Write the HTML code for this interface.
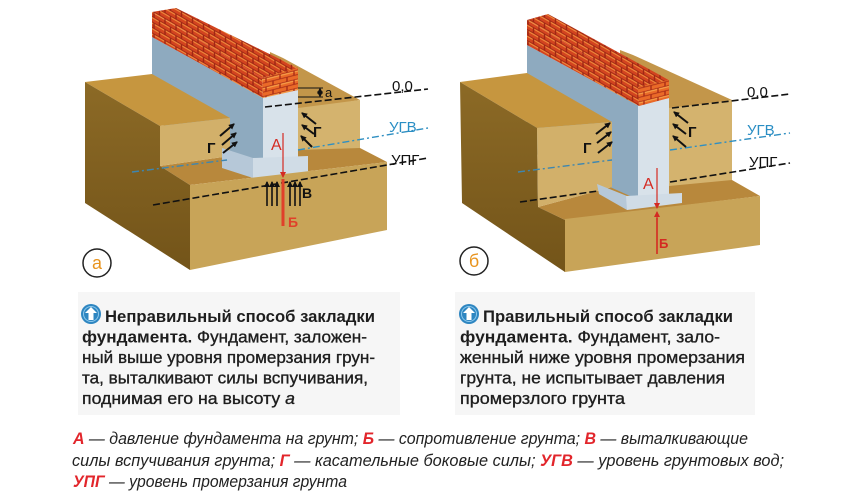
<!DOCTYPE html>
<html><head><meta charset="utf-8"><style>
html,body{margin:0;padding:0;background:#fff;}
svg{display:block;}
</style></head><body>
<svg width="860" height="500" viewBox="0 0 860 500" xmlns="http://www.w3.org/2000/svg">
<defs>
<pattern id="brS" patternUnits="userSpaceOnUse" width="11" height="11" patternTransform="skewY(30)">
<rect width="11" height="11" fill="#9e2614"/>
<rect x="0.7" y="0.7" width="9.6" height="4.4" fill="#d2441f"/>
<rect x="0.7" y="0.7" width="9.6" height="1.3" fill="#f08a3c"/>
<rect x="-4.8" y="6.2" width="9.6" height="4.4" fill="#d2441f"/>
<rect x="6.2" y="6.2" width="9.6" height="4.4" fill="#d2441f"/>
<rect x="-4.8" y="6.2" width="9.6" height="1.3" fill="#f08a3c"/>
<rect x="6.2" y="6.2" width="9.6" height="1.3" fill="#f08a3c"/>
</pattern>
<pattern id="brE" patternUnits="userSpaceOnUse" width="14" height="9" patternTransform="skewY(-14)">
<rect width="14" height="9" fill="#a82c16"/>
<rect x="0.7" y="0.7" width="12.6" height="3.6" fill="#ea6a28"/>
<rect x="0.7" y="0.7" width="12.6" height="1.2" fill="#f7a24a"/>
<rect x="-6.3" y="5.2" width="12.6" height="3.6" fill="#ea6a28"/>
<rect x="7.7" y="5.2" width="12.6" height="3.6" fill="#ea6a28"/>
</pattern>
<linearGradient id="dk" x1="0" y1="0" x2="0" y2="1">
<stop offset="0" stop-color="#8c6a26"/><stop offset="1" stop-color="#735419"/>
</linearGradient>
<marker id="ahK" markerWidth="6" markerHeight="6" refX="5" refY="3" orient="auto" markerUnits="userSpaceOnUse">
<path d="M0,0 L6,3 L0,6 z" fill="#111"/></marker>
<marker id="ahR" markerWidth="6" markerHeight="6" refX="5" refY="3" orient="auto" markerUnits="userSpaceOnUse">
<path d="M0,0 L6,3 L0,6 z" fill="#d42a22"/></marker>
</defs>

<!-- caption backgrounds -->
<rect x="78" y="292" width="322" height="123" fill="#f6f6f6"/>
<rect x="455" y="292" width="300" height="123" fill="#f6f6f6"/>

<!-- ================= LEFT DIAGRAM ================= -->
<g>
<polygon points="270,52 283,58 360,100 298,110 270,95" fill="#c3964a"/>
<polygon points="298,108 360,100 360,150 298,156" fill="#d4b36e"/>
<polygon points="160,166 230,156 298,150 360,148 387,162 190,185" fill="#b8883c"/>
<polygon points="152,37 263,98 263,172 152,120" fill="#8eaabf"/>
<polygon points="263,97 298,90 298,160 263,162" fill="#d8e2ea"/>
<!-- brick -->
<polygon points="152,12 262,78 263,98 152,37" fill="url(#brS)"/>
<polygon points="152,12 176,8 298,68 262,78" fill="url(#brS)"/>
<polygon points="262,78 298,68 298,90 263,98" fill="url(#brE)"/>
<!-- soil -->
<polygon points="85,82 152,74 230,118 160,126" fill="#c6963f"/>
<polygon points="85,82 160,126 160,166 190,185 190,270 85,203" fill="url(#dk)"/>
<polygon points="160,126 230,118 230,156 160,166" fill="#d2b06a"/>
<!-- footing -->
<polygon points="222,148 253,158 253,178 222,168" fill="#b6c8d8"/>
<polygon points="253,158 308,156 308,172 253,178" fill="#d0dce6"/>
<polygon points="190,185 387,162 387,230 190,270" fill="#c8a458"/>

<!-- lines -->
<line x1="265" y1="107" x2="428" y2="89" stroke="#111" stroke-width="1.6" stroke-dasharray="7,3"/>
<line x1="298" y1="150" x2="428" y2="128" stroke="#2f8fc2" stroke-width="1.4" stroke-dasharray="7,3,2,3"/>
<line x1="132" y1="172" x2="227" y2="160" stroke="#3d86b0" stroke-width="1.4" stroke-dasharray="7,3,2,3"/>
<line x1="153" y1="205" x2="428" y2="158" stroke="#111" stroke-width="1.6" stroke-dasharray="7,3"/>
<!-- a dimension -->
<line x1="298" y1="88" x2="323" y2="88" stroke="#111" stroke-width="1"/>
<line x1="298" y1="97" x2="323" y2="97" stroke="#111" stroke-width="1"/>
<line x1="320" y1="93" x2="320" y2="88.5" stroke="#111" stroke-width="1" marker-end="url(#ahK)"/>
<line x1="320" y1="93" x2="320" y2="96.5" stroke="#111" stroke-width="1" marker-end="url(#ahK)"/>
<text x="325" y="97" font-family="Liberation Sans, sans-serif" font-size="13" fill="#111">а</text>
<!-- Г arrows -->
<g stroke="#111" stroke-width="2">
<line x1="220" y1="136" x2="234" y2="124" marker-end="url(#ahK)"/>
<line x1="222" y1="145" x2="236" y2="133" marker-end="url(#ahK)"/>
<line x1="223" y1="153" x2="237" y2="142" marker-end="url(#ahK)"/>
<line x1="316" y1="124" x2="302" y2="113" marker-end="url(#ahK)"/>
<line x1="314" y1="134" x2="302" y2="125" marker-end="url(#ahK)"/>
<line x1="312" y1="147" x2="301" y2="136" marker-end="url(#ahK)"/>
</g>
<text x="207" y="153" font-family="Liberation Sans, sans-serif" font-size="15" font-weight="bold" fill="#111">Г</text>
<text x="313" y="137" font-family="Liberation Sans, sans-serif" font-size="15" font-weight="bold" fill="#111">Г</text>
<!-- A / Б -->
<text x="271" y="150" font-family="Liberation Sans, sans-serif" font-size="16" fill="#d42a22">А</text>
<line x1="283" y1="133" x2="283" y2="177" stroke="#d42a22" stroke-width="1.2" marker-end="url(#ahR)"/>
<line x1="283" y1="179" x2="283" y2="226" stroke="#e0402a" stroke-width="3"/>
<text x="288" y="227" font-family="Liberation Sans, sans-serif" font-size="14" font-weight="bold" fill="#e0402a">Б</text>
<!-- В arrows -->
<g stroke="#111" stroke-width="1.6">
<line x1="267" y1="206" x2="267" y2="182" marker-end="url(#ahK)"/>
<line x1="272" y1="206" x2="272" y2="182" marker-end="url(#ahK)"/>
<line x1="277" y1="206" x2="277" y2="182" marker-end="url(#ahK)"/>
<line x1="290" y1="206" x2="290" y2="182" marker-end="url(#ahK)"/>
<line x1="295" y1="206" x2="295" y2="182" marker-end="url(#ahK)"/>
<line x1="300" y1="206" x2="300" y2="182" marker-end="url(#ahK)"/>
</g>
<text x="302" y="198" font-family="Liberation Sans, sans-serif" font-size="14" font-weight="bold" fill="#111">В</text>
<!-- labels -->
<text x="392" y="91" font-family="Liberation Sans, sans-serif" font-size="15" fill="#111">0,0</text>
<text x="389" y="132" font-family="Liberation Sans, sans-serif" font-size="15" fill="#2a8ec4">УГВ</text>
<text x="391" y="165" font-family="Liberation Sans, sans-serif" font-size="15" fill="#111">УПГ</text>
<circle cx="97" cy="263" r="14" fill="#fff" stroke="#222" stroke-width="1.5"/>
<text x="97" y="269" text-anchor="middle" font-family="Liberation Sans, sans-serif" font-size="18" fill="#e8941e">а</text>
</g>

<!-- ================= RIGHT DIAGRAM ================= -->
<g>
<polygon points="620,50 633,55 732,100 670,110 620,100" fill="#c3964a"/>
<polygon points="669,108 732,100 732,182 669,188" fill="#d4b36e"/>
<polygon points="538,207 612,187 669,186 732,180 760,196 565,220" fill="#b8883c"/>
<polygon points="527,45 639,106 639,200 527,150" fill="#8eaabf"/>
<polygon points="638,105 669,98 669,195 638,198" fill="#d8e2ea"/>
<polygon points="527,20 638,87 639,106 527,45" fill="url(#brS)"/>
<polygon points="527,20 548,14 669,80 638,87" fill="url(#brS)"/>
<polygon points="638,87 669,80 669,98 639,106" fill="url(#brE)"/>
<polygon points="460,82 527,73 612,122 537,128" fill="#c6963f"/>
<polygon points="460,82 537,128 538,207 565,220 565,272 462,203" fill="url(#dk)"/>
<polygon points="537,128 612,122 612,187 538,207" fill="#d2b06a"/>
<polygon points="597,184 627,196 627,210 599,194" fill="#b6c8d8"/>
<polygon points="626,196 682,193 682,203 627,210" fill="#d0dce6"/>
<polygon points="565,219 760,196 760,245 565,272" fill="#c8a458"/>

<line x1="672" y1="108" x2="790" y2="94" stroke="#111" stroke-width="1.6" stroke-dasharray="7,3"/>
<line x1="670" y1="150" x2="790" y2="133" stroke="#2f8fc2" stroke-width="1.4" stroke-dasharray="7,3,2,3"/>
<line x1="518" y1="172" x2="612" y2="160" stroke="#3d86b0" stroke-width="1.4" stroke-dasharray="7,3,2,3"/>
<line x1="670" y1="182" x2="790" y2="163" stroke="#111" stroke-width="1.6" stroke-dasharray="7,3"/>
<line x1="520" y1="202" x2="598" y2="191" stroke="#111" stroke-width="1.6" stroke-dasharray="7,3"/>
<g stroke="#111" stroke-width="2">
<line x1="596" y1="134" x2="610" y2="123" marker-end="url(#ahK)"/>
<line x1="597" y1="143" x2="611" y2="132" marker-end="url(#ahK)"/>
<line x1="598" y1="153" x2="612" y2="142" marker-end="url(#ahK)"/>
<line x1="688" y1="123" x2="674" y2="112" marker-end="url(#ahK)"/>
<line x1="686" y1="134" x2="673" y2="124" marker-end="url(#ahK)"/>
<line x1="686" y1="147" x2="673" y2="136" marker-end="url(#ahK)"/>
</g>
<text x="583" y="153" font-family="Liberation Sans, sans-serif" font-size="15" font-weight="bold" fill="#111">Г</text>
<text x="688" y="137" font-family="Liberation Sans, sans-serif" font-size="15" font-weight="bold" fill="#111">Г</text>
<text x="643" y="189" font-family="Liberation Sans, sans-serif" font-size="16" fill="#d42a22">А</text>
<line x1="657" y1="168" x2="657" y2="208" stroke="#d42a22" stroke-width="1.2" marker-end="url(#ahR)"/>
<line x1="657" y1="220" x2="657" y2="212" stroke="#d42a22" stroke-width="1.2" marker-end="url(#ahR)"/>
<line x1="657" y1="218" x2="657" y2="254" stroke="#d42a22" stroke-width="1.6"/>
<text x="659" y="248" font-family="Liberation Sans, sans-serif" font-size="13" font-weight="bold" fill="#d42a22">Б</text>
<text x="747" y="97" font-family="Liberation Sans, sans-serif" font-size="15" fill="#111">0,0</text>
<text x="747" y="135" font-family="Liberation Sans, sans-serif" font-size="15" fill="#2a8ec4">УГВ</text>
<text x="749" y="167" font-family="Liberation Sans, sans-serif" font-size="15" fill="#111">УПГ</text>
<circle cx="474" cy="261" r="14" fill="#fff" stroke="#222" stroke-width="1.5"/>
<text x="474" y="267" text-anchor="middle" font-family="Liberation Sans, sans-serif" font-size="18" fill="#e8941e">б</text>
</g>

<!-- ================= CAPTIONS ================= -->
<g font-family="Liberation Sans, sans-serif" font-size="17" fill="#1e1e1e">
<circle cx="91" cy="314" r="10" fill="#2e86c1"/>
<circle cx="91" cy="314" r="7.5" fill="none" stroke="#8cc8ec" stroke-width="1"/>
<path d="M91,307 L97,313 L93.5,313 L93.5,320 L88.5,320 L88.5,313 L85,313 Z" fill="#fff"/>
<text x="105" y="322" textLength="270" lengthAdjust="spacingAndGlyphs" font-weight="bold">Неправильный способ закладки</text>
<text x="82" y="342.5" textLength="285" lengthAdjust="spacingAndGlyphs" stroke="#1e1e1e" stroke-width="0.35"><tspan font-weight="bold" stroke-width="0">фундамента.</tspan> Фундамент, заложен-</text>
<text x="82" y="363" textLength="293" lengthAdjust="spacingAndGlyphs" stroke="#1e1e1e" stroke-width="0.35">ный выше уровня промерзания грун-</text>
<text x="82" y="383.5" textLength="286" lengthAdjust="spacingAndGlyphs" stroke="#1e1e1e" stroke-width="0.35">та, выталкивают силы вспучивания,</text>
<text x="82" y="404" textLength="213" lengthAdjust="spacingAndGlyphs" stroke="#1e1e1e" stroke-width="0.35">поднимая его на высоту <tspan font-style="italic">а</tspan></text>

<circle cx="469" cy="314" r="10" fill="#2e86c1"/>
<circle cx="469" cy="314" r="7.5" fill="none" stroke="#8cc8ec" stroke-width="1"/>
<path d="M469,307 L475,313 L471.5,313 L471.5,320 L466.5,320 L466.5,313 L463,313 Z" fill="#fff"/>
<text x="483" y="322" textLength="250" lengthAdjust="spacingAndGlyphs" font-weight="bold">Правильный способ закладки</text>
<text x="460" y="342.5" textLength="260" lengthAdjust="spacingAndGlyphs" stroke="#1e1e1e" stroke-width="0.35"><tspan font-weight="bold" stroke-width="0">фундамента.</tspan> Фундамент, зало-</text>
<text x="460" y="363" textLength="285" lengthAdjust="spacingAndGlyphs" stroke="#1e1e1e" stroke-width="0.35">женный ниже уровня промерзания</text>
<text x="460" y="383.5" textLength="265" lengthAdjust="spacingAndGlyphs" stroke="#1e1e1e" stroke-width="0.35">грунта, не испытывает давления</text>
<text x="460" y="404" textLength="165" lengthAdjust="spacingAndGlyphs" stroke="#1e1e1e" stroke-width="0.35">промерзлого грунта</text>
</g>

<!-- ================= LEGEND ================= -->
<g font-family="Liberation Sans, sans-serif" font-size="17" font-style="italic" fill="#222">
<text x="73" y="444" textLength="675" lengthAdjust="spacingAndGlyphs"><tspan fill="#e2252b" font-weight="bold">А</tspan> — давление фундамента на грунт; <tspan fill="#e2252b" font-weight="bold">Б</tspan> — сопротивление грунта; <tspan fill="#e2252b" font-weight="bold">В</tspan> — выталкивающие</text>
<text x="72" y="466" textLength="712" lengthAdjust="spacingAndGlyphs">силы вспучивания грунта; <tspan fill="#e2252b" font-weight="bold">Г</tspan> — касательные боковые силы; <tspan fill="#e2252b" font-weight="bold">УГВ</tspan> — уровень грунтовых вод;</text>
<text x="73" y="487" textLength="274" lengthAdjust="spacingAndGlyphs"><tspan fill="#e2252b" font-weight="bold">УПГ</tspan> — уровень промерзания грунта</text>
</g>
</svg>
</body></html>
